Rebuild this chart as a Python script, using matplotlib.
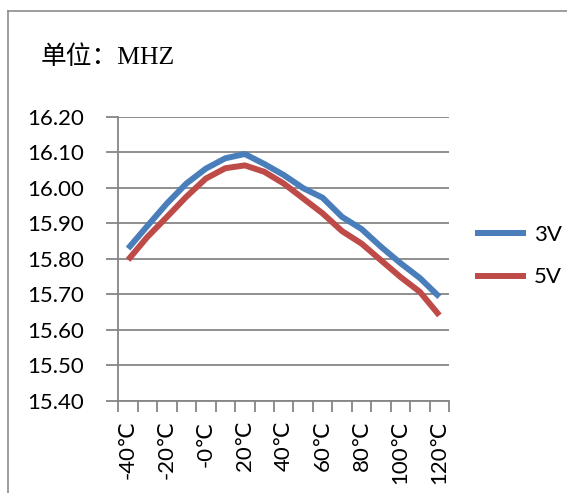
import numpy as np
import matplotlib.pyplot as plt
from matplotlib.lines import Line2D

temps = list(range(-40, 130, 10))
tick_labels = ["-40℃", "-20℃", "-0℃", "20℃", "40℃", "60℃", "80℃", "100℃", "120℃"]
v3 = [15.829, 15.893, 15.956, 16.012, 16.054, 16.083, 16.095, 16.067, 16.036,
      15.999, 15.972, 15.918, 15.884, 15.834, 15.788, 15.746, 15.693]
v5 = [15.797, 15.862, 15.918, 15.975, 16.026, 16.055, 16.063, 16.045, 16.012,
      15.970, 15.928, 15.878, 15.843, 15.796, 15.749, 15.707, 15.641]

blue = "#4a7ebb"
red = "#be4b48"
grid = "#868686"

plt.rcParams['font.family'] = ['Lato', 'DejaVu Sans']
fig = plt.figure(figsize=(5.67, 4.93), dpi=100)
ax = fig.add_axes([0.2087, 0.1866, 0.5833, 0.5767])

x = np.arange(len(temps))
ax.plot(x, v3, color=blue, lw=4.3, solid_joinstyle='round', solid_capstyle='butt', label="3V", zorder=3)
ax.plot(x, v5, color=red, lw=4.3, solid_joinstyle='round', solid_capstyle='butt', label="5V", zorder=3)

ax.set_ylim(15.40, 16.20)
ax.set_yticks(np.arange(15.40, 16.201, 0.1))
ax.set_yticklabels([f"{v:.2f}" for v in np.arange(15.40, 16.201, 0.1)], fontsize=16)
ax.yaxis.grid(True, color=grid, lw=1.3)
ax.set_axisbelow(True)

ax.set_xlim(-0.5, len(temps) - 0.5)
ax.set_xticks(np.arange(-0.5, len(temps), 1.0))
ax.set_xticklabels([])
ax.set_xticks(x[::2], minor=True)
ax.set_xticklabels(tick_labels, minor=True, rotation=90, fontsize=16)
ax.tick_params(axis='x', which='minor', length=0, pad=14)
ax.tick_params(axis='x', which='major', length=8, color=grid, width=1.3, direction='out')
ax.tick_params(axis='y', length=9, color=grid, width=1.3, pad=16)

for s in ['top', 'right']:
    ax.spines[s].set_visible(False)
for s in ['left', 'bottom']:
    ax.spines[s].set_color(grid)
    ax.spines[s].set_linewidth(1.3)

ax.legend(loc='center left', bbox_to_anchor=(0.8377, 0.48), bbox_transform=fig.transFigure,
          frameon=False, fontsize=16, handlelength=2.3, handletextpad=0.35,
          labelspacing=1.0, borderpad=0, borderaxespad=0)

fig.text(0.072, 0.884, "单位：MHZ", fontsize=18.5, va='center', ha='left',
         family=['Liberation Serif', 'Noto Sans CJK SC'])

# outer chart frame (cropped on right and bottom)
fig.add_artist(Line2D([8 / 567, 1.0], [1 - 11 / 493, 1 - 11 / 493], color="#8c8c8c", lw=1.2))
fig.add_artist(Line2D([8 / 567, 8 / 567], [0, 1 - 11 / 493], color="#8c8c8c", lw=1.2))

fig.savefig("out.png", dpi=100)
